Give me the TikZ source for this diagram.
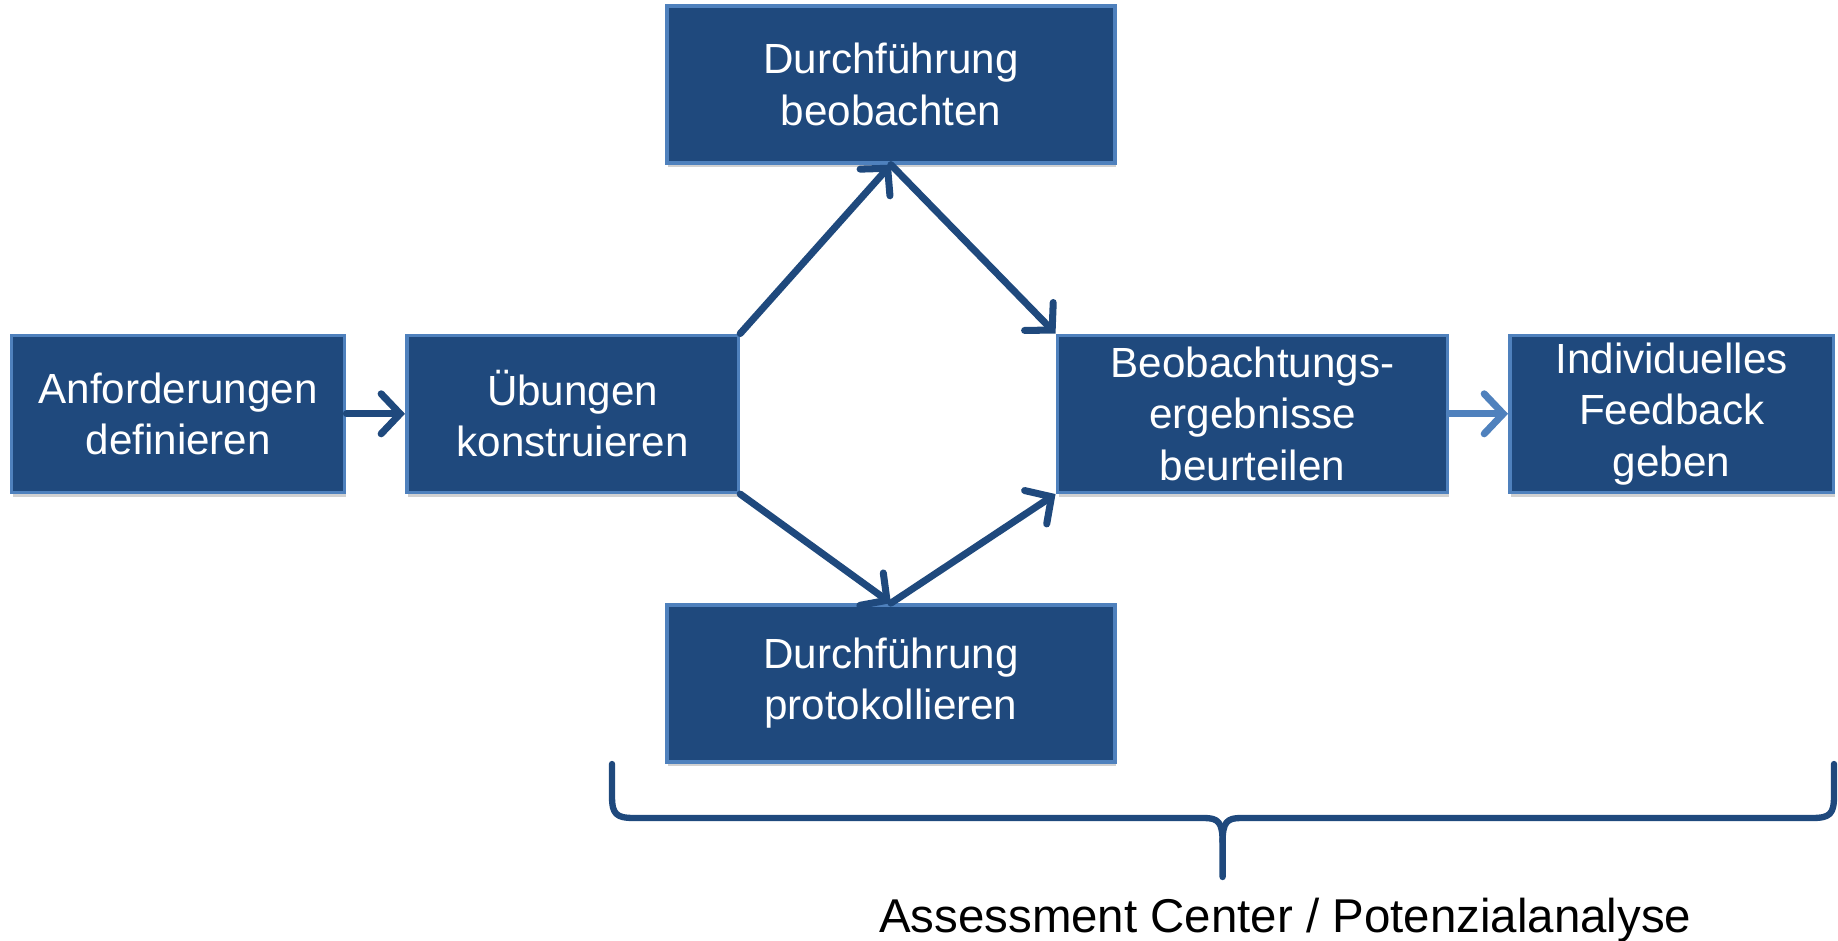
\documentclass[tikz,border=0pt]{standalone}
\usepackage{fontspec}
\setmainfont{Liberation Sans}
\usetikzlibrary{arrows.meta, shadows}
\definecolor{dunkelblau}{HTML}{1F497D}
\definecolor{hellblau}{HTML}{4F81BD}

\tikzset{
  kasten/.style={draw=hellblau, line width=1pt, fill=dunkelblau, text=white,
    font=\fontsize{12}{14.6}\selectfont, align=center, inner sep=0pt,
    minimum height=1.57cm,
    drop shadow={shadow xshift=0.4pt, shadow yshift=-1.3pt, opacity=0.18, fill=black}},
  pfeil/.style={draw=dunkelblau, line width=2pt, line cap=round,
    -{Straight Barb[length=1.9mm, width=4mm, line cap=round]}}
}

\begin{document}
\begin{tikzpicture}

\useasboundingbox (0,0) rectangle (18.38,-9.41);

% Schritte
\node[kasten, minimum width=3.33cm] (anf) at (1.782,-4.138) {Anforderungen\\definieren};
\node[kasten, minimum width=3.317cm] (ueb) at (5.726,-4.138) {Übungen\\konstruieren};
\node[kasten, minimum width=4.478cm] (beob) at (8.909,-0.844) {Durchführung\\beobachten};
\node[kasten, minimum width=4.478cm] (prot) at (8.909,-6.834) {Durchführung\\protokollieren};
\node[kasten, minimum width=3.904cm] (erg) at (12.525,-4.138) {Beobachtungs-\\ergebnisse\\beurteilen};
\node[kasten, minimum width=3.236cm] (fb) at (16.716,-4.138) {Individuelles\\Feedback\\geben};

% Pfeile
\draw[pfeil] (anf) -- (ueb);
\draw[pfeil] (ueb.north east) -- (beob.south);
\draw[pfeil] (beob.south) -- (erg.north west);
\draw[pfeil] (ueb.south east) -- (prot.north);
\draw[pfeil] (prot.north) -- (erg.south west);
\draw[pfeil, draw=hellblau] (erg) -- (fb);

% Klammer
\coordinate (spitze) at (12.226,-8.77);
\draw[dunkelblau, line width=1.8pt, line cap=round, line join=round]
  (6.12,-7.64) -- (6.12,-7.96) .. controls (6.12,-8.14) and (6.16,-8.18) .. (6.34,-8.18)
  -- (12.04,-8.18) .. controls (12.18,-8.18) and (12.226,-8.22) .. (12.226,-8.42)
  -- (spitze);
\draw[dunkelblau, line width=1.8pt, line cap=round, line join=round]
  (12.226,-8.42) .. controls (12.226,-8.22) and (12.27,-8.18) .. (12.41,-8.18)
  -- (18.12,-8.18) .. controls (18.3,-8.18) and (18.34,-8.14) .. (18.34,-7.96)
  -- (18.34,-7.64);

% Beschriftung
\node[anchor=base, font=\fontsize{13.5}{16}\selectfont] (ac) at (12.853,-9.32)
  {Assessment Center / Potenzialanalyse};

\end{tikzpicture}
\end{document}
